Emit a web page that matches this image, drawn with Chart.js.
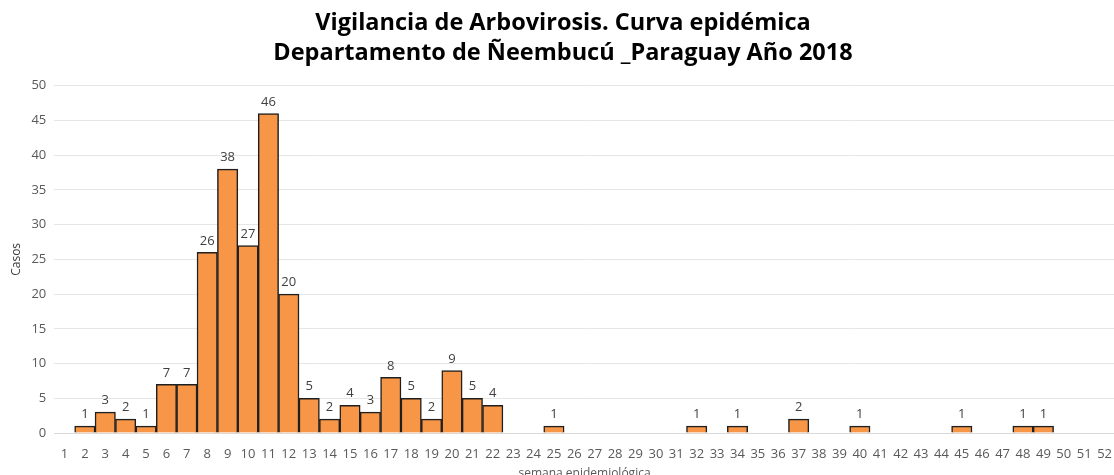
<!DOCTYPE html>
<html lang="es">
  <head>
    <meta charset="UTF-8" />
    <title>Vigilancia de Arbovirosis - Curva epidémica</title>
    <script src="https://cdn.jsdelivr.net/npm/chart.js"></script>
    <style>
      html, body { margin: 0; padding: 0; background: #fff; overflow: hidden; }
      #wrap { width: 1117px; height: 481px; }
    </style>
  </head>
  <body>
    <div id="wrap"><canvas id="curva"></canvas></div>
    <script>
      // semanas epidemiológicas 1..52
      const semanas = [];
      for (let i = 1; i <= 52; i++) semanas.push(String(i));

      // casos por semana
      const casos = [
        0, 1, 3, 2, 1, 7, 7, 26, 38, 27, 46, 20, 5, 2, 4, 3, 8, 5, 2, 9,
        5, 4, 0, 0, 1, 0, 0, 0, 0, 0, 0, 1, 0, 1, 0, 0, 2, 0, 0, 1,
        0, 0, 0, 0, 1, 0, 0, 1, 1, 0, 0, 0,
      ];

      const tituloLineas = [
        "Vigilancia de Arbovirosis. Curva epidémica",
        "Departamento de Ñeembucú _Paraguay Año 2018",
      ];

      const fuente = "'Open Sans', 'Noto Sans', sans-serif";

      // etiquetas encima de cada barra (solo valores > 0)
      const etiquetasPlugin = {
        id: "etiquetas",
        afterDatasetsDraw(chart) {
          const ctx = chart.ctx;
          const meta = chart.getDatasetMeta(0);
          ctx.save();
          ctx.font = "13px " + fuente;
          ctx.fillStyle = "#404040";
          ctx.textAlign = "center";
          ctx.textBaseline = "bottom";
          meta.data.forEach((bar, i) => {
            const v = chart.data.datasets[0].data[i];
            if (v > 0) ctx.fillText(v, bar.x, bar.y - 5);
          });
          ctx.restore();
        },
      };

      new Chart(document.getElementById("curva"), {
        type: "bar",
        data: {
          labels: semanas,
          datasets: [
            {
              label: "Casos",
              data: casos,
              backgroundColor: "#F79646",
              borderColor: "#1f1f1f",
              borderWidth: 1.5,
              barPercentage: 1,
              categoryPercentage: 1,
            },
          ],
        },
        options: {
          responsive: true,
          maintainAspectRatio: false,
          animation: false,
          layout: { padding: { top: 9, right: 0, left: 9, bottom: 0 } },
          plugins: {
            legend: { display: false },
            tooltip: { enabled: false },
            title: {
              display: true,
              text: tituloLineas,
              color: "#000",
              font: { family: "'Open Sans', sans-serif", size: 23.5, weight: "bold", lineHeight: 1.25 },
              padding: { top: 0, bottom: 18 },
            },
          },
          scales: {
            x: {
              grid: { display: false },
              border: { display: true, color: "#d9d9d9" },
              ticks: {
                color: "#595959",
                font: { family: fuente, size: 13 },
                maxRotation: 0,
                autoSkip: false,
                padding: 5,
              },
              title: {
                display: true,
                text: "semana epidemiológica",
                color: "#595959",
                font: { family: fuente, size: 12 },
                padding: { top: 0, bottom: 0 },
              },
            },
            y: {
              min: 0,
              max: 50,
              ticks: {
                stepSize: 5,
                color: "#595959",
                font: { family: fuente, size: 13 },
                padding: 8,
              },
              grid: { color: "#e6e6e6", drawTicks: false },
              border: { display: false },
              title: {
                display: true,
                text: "Casos",
                color: "#404040",
                font: { family: fuente, size: 12 },
                padding: { top: 0, bottom: 0 },
              },
            },
          },
        },
        plugins: [etiquetasPlugin],
      });
    </script>
  </body>
</html>
